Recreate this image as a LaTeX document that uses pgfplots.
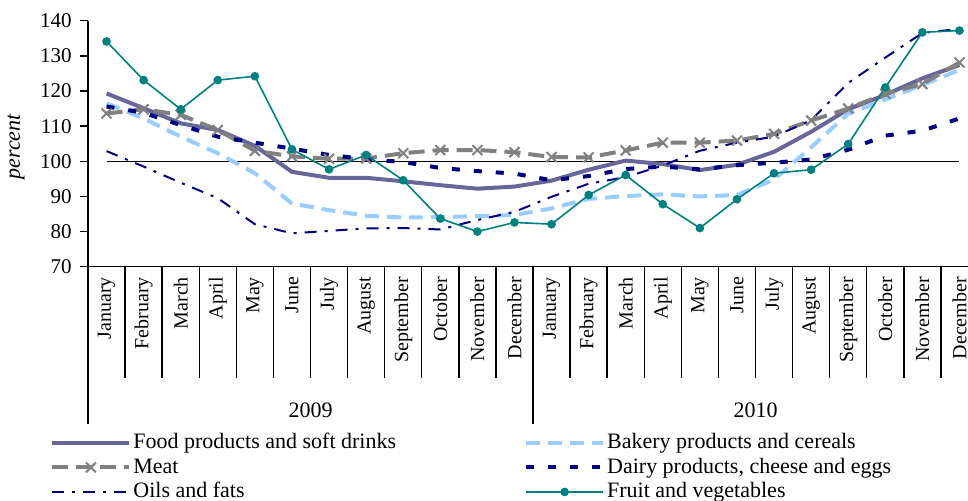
\documentclass[border=0pt]{standalone}
\usepackage{pgfplots}
\pgfplotsset{compat=1.18}
\usepackage{fontspec}
\setmainfont{Liberation Serif}

\definecolor{foodc}{HTML}{666699}
\definecolor{bakeryc}{HTML}{99CCFF}
\definecolor{meatc}{HTML}{808080}
\definecolor{navyc}{HTML}{000080}
\definecolor{fruitc}{HTML}{008080}

\begin{document}
\begin{tikzpicture}
\begin{axis}[
  scale only axis,
  width=445pt, height=123pt,
  xmin=-0.5, xmax=23.5, ymin=70, ymax=140,
  axis x line=bottom, axis y line=left,
  axis line style={-, line width=0.7pt},
  ytick={70,80,...,140},
  tick align=outside, major tick length=4pt,
  ytick style={line width=0.7pt, black},
  xtick={0,...,23},
  xtick style={draw=none},
  xticklabels={January,February,March,April,May,June,July,August,September,October,November,December,
               January,February,March,April,May,June,July,August,September,October,November,December},
  xticklabel style={rotate=90, anchor=east, inner sep=1pt, font=\fontsize{10}{12}\selectfont},
  yticklabel style={inner xsep=4pt, font=\fontsize{10.5}{12.5}\selectfont},
  /pgf/number format/assume math mode=true,
  ylabel={percent},
  ylabel style={font=\itshape\fontsize{11}{13}\selectfont, at={(axis description cs:-0.0708,0.487)}, anchor=south, inner sep=0pt},
  clip=false,
  legend columns=2,
  legend cell align=left,
  legend image code/.code={\draw[mark repeat=2,mark phase=2,#1] plot coordinates {(0pt,0pt) (19.25pt,0pt) (38.5pt,0pt)};},
  legend style={draw=none, fill=none, inner sep=0pt, row sep=0pt,
    at={(axis description cs:-0.0427,-0.665)}, anchor=north west,
    font=\fontsize{11}{13}\selectfont,
    nodes={inner sep=1pt, text height=8pt, text depth=2.25pt},
    /tikz/every even column/.append style={column sep=63pt}},
]

% index line at 100
\addplot[black, line width=0.75pt, forget plot] coordinates {(0,100) (23,100)};

\addplot[foodc, line width=2pt] coordinates {
 (0,119.3) (1,115.1) (2,110.8) (3,108.9) (4,104.4) (5,97.0) (6,95.3) (7,95.3) (8,94.3) (9,93.2) (10,92.2) (11,92.8)
 (12,94.5) (13,97.6) (14,100.2) (15,99.2) (16,97.5) (17,99.0) (18,102.7) (19,108.4) (20,114.8) (21,118.9) (22,123.6) (23,127.4)};
\addlegendentry{Food products and soft drinks}

\addplot[bakeryc, line width=2pt, dash pattern=on 7pt off 4pt] coordinates {
 (0,116.5) (1,112.2) (2,107.0) (3,102.3) (4,96.6) (5,88.0) (6,86.1) (7,84.5) (8,84.0) (9,84.1) (10,84.4) (11,84.7)
 (12,86.6) (13,89.3) (14,90.1) (15,90.6) (16,90.0) (17,90.4) (18,94.8) (19,104.0) (20,113.5) (21,117.6) (22,121.7) (23,126.0)};
\addlegendentry{Bakery products and cereals}

\addplot[meatc, line width=2pt, dash pattern=on 8pt off 4pt, mark=x, mark size=3.5pt,
  mark options={solid, line width=1pt}] coordinates {
 (0,113.6) (1,114.8) (2,113.2) (3,108.9) (4,103.0) (5,101.4) (6,100.7) (7,100.8) (8,102.3) (9,103.2) (10,103.2) (11,102.6)
 (12,101.2) (13,101.1) (14,103.1) (15,105.3) (16,105.3) (17,105.9) (18,107.8) (19,111.6) (20,115.0) (21,119.2) (22,122.0) (23,128.1)};
\addlegendentry{Meat}

\addplot[navyc, line width=2pt, dash pattern=on 4pt off 7pt] coordinates {
 (0,115.6) (1,113.8) (2,110.3) (3,107.0) (4,105.3) (5,103.6) (6,101.8) (7,100.6) (8,99.8) (9,98.1) (10,97.2) (11,96.5)
 (12,94.6) (13,95.8) (14,97.8) (15,98.5) (16,97.7) (17,98.9) (18,99.6) (19,100.5) (20,103.3) (21,107.3) (22,108.7) (23,112.2)};
\addlegendentry{Dairy products, cheese and eggs}

\addplot[navyc, line width=1pt, dash pattern=on 6pt off 4pt on 1.5pt off 4pt] coordinates {
 (0,102.9) (1,98.5) (2,93.9) (3,89.5) (4,82.1) (5,79.5) (6,80.2) (7,80.9) (8,81.0) (9,80.6) (10,83.3) (11,85.6)
 (12,89.9) (13,93.6) (14,95.5) (15,98.8) (16,103.0) (17,105.3) (18,107.0) (19,111.7) (20,122.3) (21,129.5) (22,136.5) (23,137.7)};
\addlegendentry{Oils and fats}

\addplot[fruitc, line width=0.8pt, mark=*, mark size=1.75pt, mark options={solid, fill=fruitc}] coordinates {
 (0,134.1) (1,123.1) (2,114.8) (3,123.1) (4,124.2) (5,103.4) (6,97.7) (7,101.8) (8,94.6) (9,83.7) (10,80.0) (11,82.6)
 (12,82.1) (13,90.4) (14,96.1) (15,87.8) (16,81.0) (17,89.2) (18,96.6) (19,97.6) (20,104.9) (21,121.0) (22,136.7) (23,137.2)};
\addlegendentry{Fruit and vegetables}

% month separators below the axis
\draw[line width=0.7pt]
  (axis cs:0.5,70) -- ([yshift=-55.5pt]axis cs:0.5,70)
  (axis cs:1.5,70) -- ([yshift=-55.5pt]axis cs:1.5,70)
  (axis cs:2.5,70) -- ([yshift=-55.5pt]axis cs:2.5,70)
  (axis cs:3.5,70) -- ([yshift=-55.5pt]axis cs:3.5,70)
  (axis cs:4.5,70) -- ([yshift=-55.5pt]axis cs:4.5,70)
  (axis cs:5.5,70) -- ([yshift=-55.5pt]axis cs:5.5,70)
  (axis cs:6.5,70) -- ([yshift=-55.5pt]axis cs:6.5,70)
  (axis cs:7.5,70) -- ([yshift=-55.5pt]axis cs:7.5,70)
  (axis cs:8.5,70) -- ([yshift=-55.5pt]axis cs:8.5,70)
  (axis cs:9.5,70) -- ([yshift=-55.5pt]axis cs:9.5,70)
  (axis cs:10.5,70) -- ([yshift=-55.5pt]axis cs:10.5,70)
  (axis cs:12.5,70) -- ([yshift=-55.5pt]axis cs:12.5,70)
  (axis cs:13.5,70) -- ([yshift=-55.5pt]axis cs:13.5,70)
  (axis cs:14.5,70) -- ([yshift=-55.5pt]axis cs:14.5,70)
  (axis cs:15.5,70) -- ([yshift=-55.5pt]axis cs:15.5,70)
  (axis cs:16.5,70) -- ([yshift=-55.5pt]axis cs:16.5,70)
  (axis cs:17.5,70) -- ([yshift=-55.5pt]axis cs:17.5,70)
  (axis cs:18.5,70) -- ([yshift=-55.5pt]axis cs:18.5,70)
  (axis cs:19.5,70) -- ([yshift=-55.5pt]axis cs:19.5,70)
  (axis cs:20.5,70) -- ([yshift=-55.5pt]axis cs:20.5,70)
  (axis cs:21.5,70) -- ([yshift=-55.5pt]axis cs:21.5,70)
  (axis cs:22.5,70) -- ([yshift=-55.5pt]axis cs:22.5,70);
% year separators
\draw[line width=0.7pt]
  (axis cs:-0.5,70) -- ([yshift=-78.5pt]axis cs:-0.5,70)
  (axis cs:11.5,70) -- ([yshift=-78.5pt]axis cs:11.5,70)
  (axis cs:23.5,70) -- ([yshift=-78.5pt]axis cs:23.5,70);
% year labels
\node[font=\fontsize{11}{13}\selectfont] at ([yshift=-72pt]axis cs:5.5,70) {2009};
\node[font=\fontsize{11}{13}\selectfont] at ([yshift=-72pt]axis cs:17.5,70) {2010};
\end{axis}
\pgfresetboundingbox
\useasboundingbox (-44pt,-116.65pt) rectangle (440pt,133.35pt);
\end{tikzpicture}
\end{document}
